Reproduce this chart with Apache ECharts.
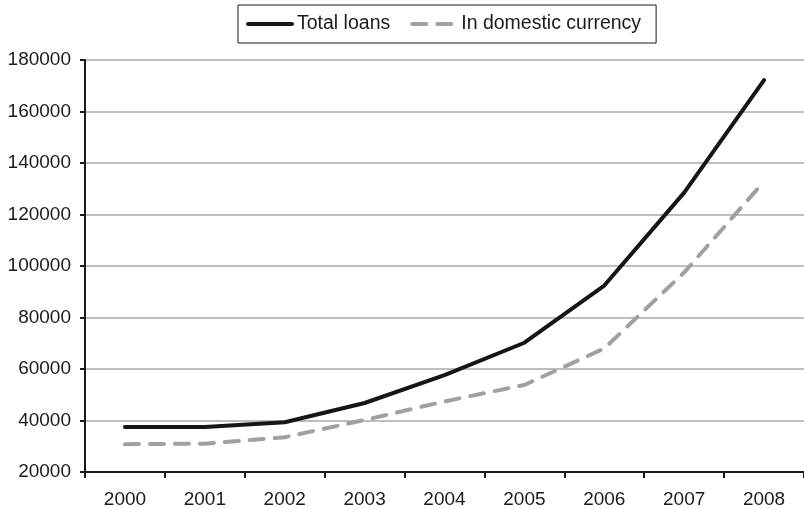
<!DOCTYPE html>
<html>
<head>
<meta charset="utf-8">
<style>
  html, body { margin: 0; padding: 0; background: #fff; }
  #chart { width: 804px; height: 509px; }
</style>
<script src="https://cdn.jsdelivr.net/npm/echarts@6/dist/echarts.min.js"></script>
</head>
<body>
<div id="chart"></div>
<script>
// Loans outstanding by year
const years = ['2000', '2001', '2002', '2003', '2004', '2005', '2006', '2007', '2008'];
const totalLoans = [37500, 37500, 39300, 46800, 57600, 70200, 92400, 128500, 172200];
const domesticCurrency = [30800, 31000, 33500, 40200, 47400, 53800, 68000, 97500, 132800];
const yTicks = { min: 20000, max: 180000, interval: 20000 };

const FONT = '"Liberation Sans", Arial, Helvetica, sans-serif';
const chart = echarts.init(document.getElementById('chart'), null, { renderer: 'canvas' });

chart.setOption({
  animation: false,
  backgroundColor: '#ffffff',
  textStyle: { fontFamily: FONT, color: '#1a1a1a' },
  legend: {
    top: 5,
    left: 238,
    padding: [9, 15, 9, 8],
    borderColor: '#1a1a1a',
    borderWidth: 1,
    borderRadius: 0,
    itemWidth: 44,
    itemHeight: 14,
    itemGap: 20,
    itemStyle: { opacity: 0 },
    lineStyle: { width: 4, cap: 'round' },
    textStyle: { fontFamily: FONT, fontSize: 19.5, color: '#1a1a1a' },
    data: ['Total loans', 'In domestic currency']
  },
  grid: { left: 85, right: -1, top: 60, bottom: 37, containLabel: false },
  xAxis: {
    type: 'category',
    data: years,
    boundaryGap: true,
    axisLine: { lineStyle: { color: '#1a1a1a', width: 2 } },
    axisTick: { show: true, length: 6, lineStyle: { color: '#1a1a1a', width: 2 } },
    axisLabel: { fontSize: 19, color: '#1a1a1a', margin: 18, fontFamily: FONT },
    splitLine: { show: false }
  },
  yAxis: {
    type: 'value',
    min: yTicks.min,
    max: yTicks.max,
    interval: yTicks.interval,
    axisLine: { show: true, lineStyle: { color: '#1a1a1a', width: 2 } },
    axisTick: { show: true, length: 5, lineStyle: { color: '#1a1a1a', width: 2 } },
    axisLabel: {
      fontSize: 19, color: '#1a1a1a', margin: 14, fontFamily: FONT,
      formatter: (v) => String(v)
    },
    splitLine: { show: true, lineStyle: { color: '#a8a8a8', width: 1.5 } }
  },
  series: [
    {
      name: 'Total loans',
      type: 'line',
      data: totalLoans,
      symbol: 'none',
      color: '#161616',
      lineStyle: { color: '#161616', width: 4, cap: 'round', join: 'round' },
      z: 3
    },
    {
      name: 'In domestic currency',
      type: 'line',
      data: domesticCurrency,
      symbol: 'none',
      color: '#a0a0a0',
      lineStyle: { color: '#a0a0a0', width: 4, type: [14, 11], cap: 'round', join: 'round' },
      z: 2
    }
  ]
});
</script>
</body>
</html>
